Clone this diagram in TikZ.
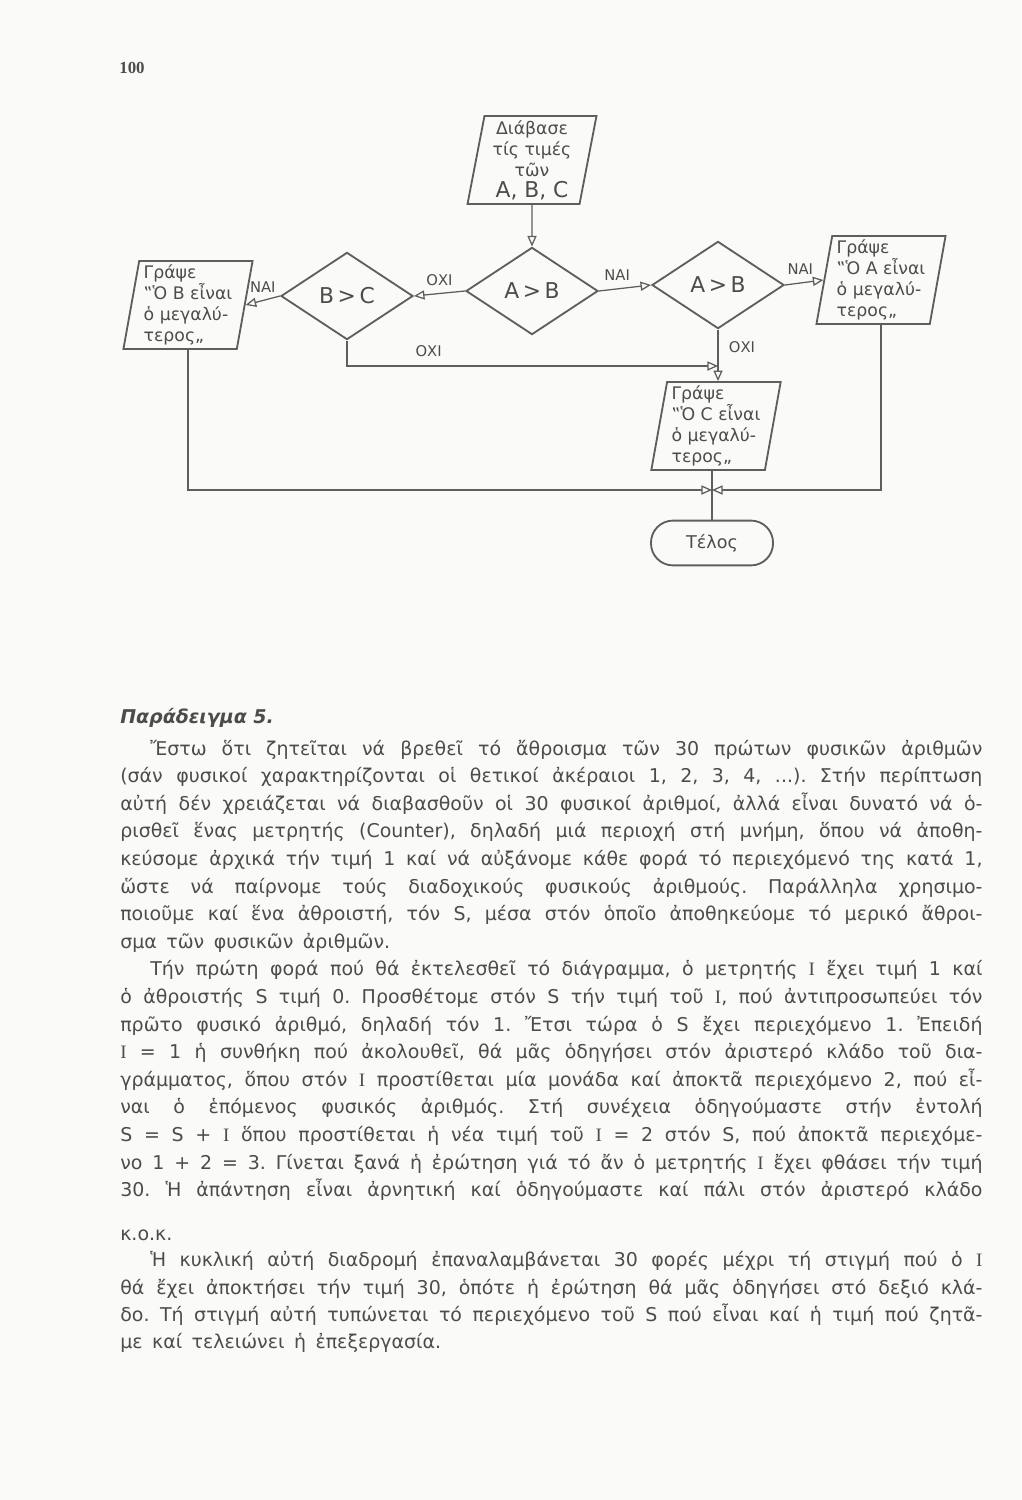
\documentclass[tikz,border=0pt]{standalone}
\usepackage{fontspec}
\setmainfont{DejaVu Sans}
\newfontfamily\pagefont{Liberation Serif}
\usetikzlibrary{positioning, shapes.geometric, arrows.meta}
\frenchspacing

\definecolor{ink}{HTML}{4C4C4C}
\definecolor{rule}{HTML}{5E5E5E}
\definecolor{paper}{HTML}{FAFAF8}
\newcommand{\fullline}[1]{\makebox[21.55cm][s]{#1}}
\newcommand{\indline}[1]{\makebox[20.8cm][s]{#1}}
\newcommand{\ctrI}{{\pagefont I}}
\newcommand{\bodyfont}{\fontsize{13.5}{16}\selectfont
    \spaceskip=0.5em plus 1fil minus 0.2em\relax}

\begin{document}
\begin{tikzpicture}[
    x=0.025cm, y=-0.025cm,
    iobox/.style={draw=rule, line width=1.3pt, trapezium,
                  trapezium left angle=80, trapezium right angle=100,
                  trapezium stretches=true, minimum width=3.25cm,
                  minimum height=2.2cm, align=left, inner sep=2pt,
                  font=\fontsize{12.3}{15}\selectfont, text=ink},
    test/.style={draw=rule, line width=1.3pt, diamond, minimum width=3.3cm,
                 minimum height=2.18cm, inner sep=0pt,
                 font=\fontsize{15.5}{18}\selectfont, text=ink},
    term/.style={draw=rule, line width=1.3pt, rounded corners=0.55cm,
                 minimum width=3.05cm, minimum height=1.12cm,
                 font=\fontsize{12.5}{15}\selectfont, text=ink},
    arw/.style={-{Triangle[open, length=7.5pt, width=6.5pt]}, line width=0.9pt,
                draw=rule},
    lbl/.style={font=\fontsize{10.5}{12}\selectfont, text=ink},
    bodyline/.style={anchor=base west, inner sep=0pt, font=\bodyfont, text=ink},
]
\fill[paper] (0,0) rectangle (1021,1500);
\useasboundingbox (0,0) rectangle (1021,1500);

% --- page number ---
\node[font=\pagefont\bfseries\fontsize{12}{14}\selectfont, text=ink] (page) at (132,68) {100};

% --- flowchart ---
\node[iobox, align=center] (read) at (532,160)
    {Διάβασε\\τίς τιμές\\τῶν\\{\fontsize{15.5}{17}\selectfont A, B, C}};
\node[test] (ab1) at (532,291) {A\,>\,B};
\node[test] (ab2) at (718,285) {A\,>\,B};
\node[test] (bc) at (347,296) {B\,>\,C};
\node[iobox] (wa) at (881,280) {Γράψε\\‟Ὁ A εἶναι\\ὁ μεγαλύ-\\τερος„};
\node[iobox] (wb) at (188,305) {Γράψε\\‟Ὁ B εἶναι\\ὁ μεγαλύ-\\τερος„};
\node[iobox] (wc) at (716,426) {Γράψε\\‟Ὁ C εἶναι\\ὁ μεγαλύ-\\τερος„};
\node[term] (stop) at (712,543) {Τέλος};
\coordinate (merge) at (stop.north |- 0,490);
\coordinate (cin) at (ab2.south |- 0,366);

\draw[arw] (read) -- (ab1);
\draw[arw] (ab1.east) -- (ab2.west) node[lbl, pos=0.35, above=2pt] {ΝΑΙ};
\draw[arw] (ab2.east) -- (wa.west) node[lbl, pos=0.4, above=2pt] {ΝΑΙ};
\draw[arw] (ab2.south) -- (ab2.south |- wc.north)
    node[lbl, pos=0.35, right=4pt] {ΟΧΙ};
\draw[arw] (ab1.west) -- (bc.east) node[lbl, midway, above=2pt] {ΟΧΙ};
\draw[arw] (bc.west) -- (wb.east) node[lbl, midway, above=2pt] {ΝΑΙ};
\draw[arw] (bc.south) |- (cin) node[lbl, pos=0.61, above=3pt] {ΟΧΙ};
\draw[line width=0.9pt, rule] (stop.north |- wc.south) -- (stop.north);
\draw[arw] (wb.south) |- (merge);
\draw[arw] (wa.south) |- (merge);

% --- text ---
\node[bodyline, font=\fontsize{13.5}{16}\selectfont\bfseries\itshape] (head)
    at (120,723) {Παράδειγμα 5.};
\node[bodyline] (l1) at (150,755) {\indline{Ἔστω ὅτι ζητεῖται νά βρεθεῖ τό ἄθροισμα τῶν 30 πρώτων φυσικῶν ἀριθμῶν}};
\node[bodyline] (l2) at (120,782.6) {\fullline{(σάν φυσικοί χαρακτηρίζονται οἱ θετικοί ἀκέραιοι 1, 2, 3, 4, ...). Στήν περίπτωση}};
\node[bodyline] (l3) at (120,810.2) {\fullline{αὐτή δέν χρειάζεται νά διαβασθοῦν οἱ 30 φυσικοί ἀριθμοί, ἀλλά εἶναι δυνατό νά ὁ-}};
\node[bodyline] (l4) at (120,837.8) {\fullline{ρισθεῖ ἕνας μετρητής (Counter), δηλαδή μιά περιοχή στή μνήμη, ὅπου νά ἀποθη-}};
\node[bodyline] (l5) at (120,865.4) {\fullline{κεύσομε ἀρχικά τήν τιμή 1 καί νά αὐξάνομε κάθε φορά τό περιεχόμενό της κατά 1,}};
\node[bodyline] (l6) at (120,893) {\fullline{ὥστε νά παίρνομε τούς διαδοχικούς φυσικούς ἀριθμούς. Παράλληλα χρησιμο-}};
\node[bodyline] (l7) at (120,920.6) {\fullline{ποιοῦμε καί ἕνα ἀθροιστή, τόν S, μέσα στόν ὁποῖο ἀποθηκεύομε τό μερικό ἄθροι-}};
\node[bodyline] (l8) at (120,948.2) {σμα τῶν φυσικῶν ἀριθμῶν.};
\node[bodyline] (l9) at (150,975.8) {\indline{Τήν πρώτη φορά πού θά ἐκτελεσθεῖ τό διάγραμμα, ὁ μετρητής \ctrI\ ἔχει τιμή 1 καί}};
\node[bodyline] (l10) at (120,1003.4) {\fullline{ὁ ἀθροιστής S τιμή 0. Προσθέτομε στόν S τήν τιμή τοῦ \ctrI, πού ἀντιπροσωπεύει τόν}};
\node[bodyline] (l11) at (120,1031) {\fullline{πρῶτο φυσικό ἀριθμό, δηλαδή τόν 1. Ἔτσι τώρα ὁ S ἔχει περιεχόμενο 1. Ἐπειδή}};
\node[bodyline] (l12) at (120,1058.6) {\fullline{\ctrI\ = 1 ἡ συνθήκη πού ἀκολουθεῖ, θά μᾶς ὁδηγήσει στόν ἀριστερό κλάδο τοῦ δια-}};
\node[bodyline] (l13) at (120,1086.2) {\fullline{γράμματος, ὅπου στόν \ctrI\ προστίθεται μία μονάδα καί ἀποκτᾶ περιεχόμενο 2, πού εἶ-}};
\node[bodyline] (l14) at (120,1113.8) {\fullline{ναι ὁ ἑπόμενος φυσικός ἀριθμός. Στή συνέχεια ὁδηγούμαστε στήν ἐντολή}};
\node[bodyline] (l15) at (120,1141.4) {\fullline{S = S + \ctrI\ ὅπου προστίθεται ἡ νέα τιμή τοῦ \ctrI\ = 2 στόν S, πού ἀποκτᾶ περιεχόμε-}};
\node[bodyline] (l16) at (120,1169) {\fullline{νο 1 + 2 = 3. Γίνεται ξανά ἡ ἐρώτηση γιά τό ἄν ὁ μετρητής \ctrI\ ἔχει φθάσει τήν τιμή}};
\node[bodyline] (l17) at (120,1196.6) {\fullline{30. Ἡ ἀπάντηση εἶναι ἀρνητική καί ὁδηγούμαστε καί πάλι στόν ἀριστερό κλάδο}};
\node[bodyline] (l18) at (120,1240) {κ.ο.κ.};
\node[bodyline] (l19) at (150,1266) {\indline{Ἡ κυκλική αὐτή διαδρομή ἐπαναλαμβάνεται 30 φορές μέχρι τή στιγμή πού ὁ \ctrI}};
\node[bodyline] (l20) at (120,1294) {\fullline{θά ἔχει ἀποκτήσει τήν τιμή 30, ὁπότε ἡ ἐρώτηση θά μᾶς ὁδηγήσει στό δεξιό κλά-}};
\node[bodyline] (l21) at (120,1321) {\fullline{δο. Τή στιγμή αὐτή τυπώνεται τό περιεχόμενο τοῦ S πού εἶναι καί ἡ τιμή πού ζητᾶ-}};
\node[bodyline] (l22) at (120,1348) {με καί τελειώνει ἡ ἐπεξεργασία.};
\end{tikzpicture}
\end{document}
